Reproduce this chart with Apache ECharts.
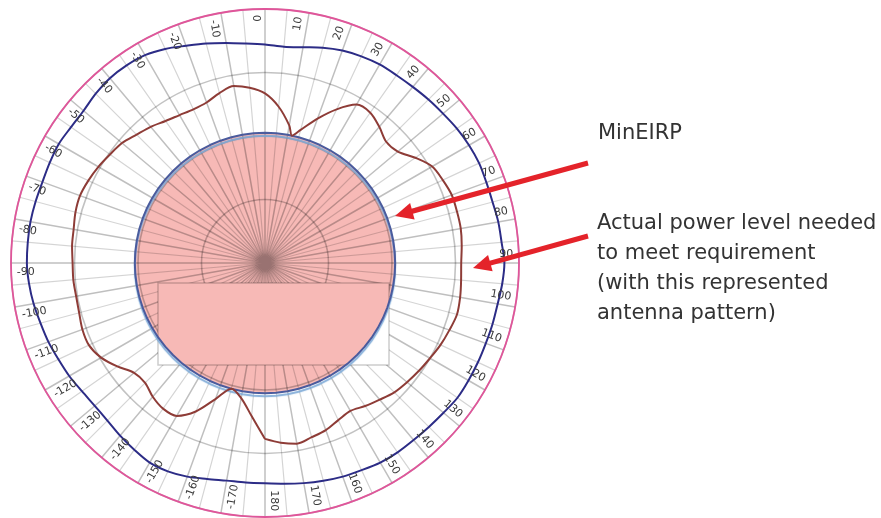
<!DOCTYPE html>
<html>
<head>
<meta charset="utf-8">
<script src="https://cdn.jsdelivr.net/npm/echarts@6/dist/echarts.min.js"></script>
<style>
  html, body { margin: 0; padding: 0; background: #ffffff; }
  #chart { width: 881px; height: 518px; }
</style>
</head>
<body>
<div id="chart"></div>
<script>
// Azimuth sample points in degrees (0 = top, clockwise positive)
const angles = [
  -180, -175, -170, -165, -160, -155, -150, -145, -140, -135, -130, -125,
  -120, -115, -110, -105, -100, -95, -90, -85, -80, -75, -70, -65,
  -60, -55, -50, -45, -40, -35, -30, -25, -20, -15, -10, -5,
  0, 5, 10, 15, 20, 25, 30, 35, 40, 45, 50, 55,
  60, 65, 70, 75, 80, 85, 90, 95, 100, 105, 110, 115,
  120, 125, 130, 135, 140, 145, 150, 155, 160, 165, 170, 175, 180
];

// Outer trace (dark blue), one value per entry of `angles`
const outerLevel = [
  34.7, 34.7, 34.8, 35.2, 35.8, 36.2, 36.3, 35.9, 35.5, 35.1, 35.0, 35.2,
  35.6, 35.9, 36.3, 36.6, 37.0, 37.3, 37.5, 37.5, 37.5, 37.4, 37.3, 37.4,
  37.5, 37.3, 37.3, 37.7, 38.0, 38.0, 37.8, 37.2, 36.4, 35.8, 35.2, 34.7,
  34.4, 34.2, 34.5, 35.1, 35.6, 35.9, 36.1, 36.1, 36.2, 36.4, 36.6, 36.9,
  37.1, 37.2, 37.1, 37.1, 37.3, 37.4, 37.7, 37.5, 37.2, 37.1, 37.0, 37.0,
  37.0, 37.0, 36.7, 36.5, 36.4, 36.4, 36.3, 36.0, 35.8, 35.5, 35.2, 34.9, 34.7
];

// Actual power level needed with the antenna pattern (brown trace)
const patternAngles = [
  -180, -175, -170, -165, -160, -155, -150, -145, -140, -135, -130, -125,
  -120, -115, -110, -105, -100, -95, -90, -85, -80, -75, -70, -65,
  -60, -55, -50, -45, -40, -35, -30, -25, -20, -15, -10, -5,
  0, 5, 10, 12, 15, 20, 25, 30, 35, 40, 45, 50, 55,
  60, 65, 70, 75, 80, 85, 90, 95, 100, 105, 110, 115,
  120, 125, 130, 135, 140, 145, 150, 155, 160, 165, 170, 175, 180
];
const patternLevel = [
  27.7, 24.2, 21.6, 20.5, 22.8, 25.8, 27.8, 28.0, 27.5, 26.7, 26.9, 28.4,
  29.8, 30.6, 30.6, 30.3, 30.2, 30.3, 30.3, 30.5, 30.6, 30.9, 31.0, 30.7,
  30.3, 29.8, 29.4, 28.6, 28.0, 27.3, 26.9, 26.7, 26.9, 27.7, 28.3, 27.7,
  26.7, 24.7, 22.0, 20.5, 21.7, 24.2, 26.7, 28.8, 28.9, 28.0, 27.0, 27.3, 28.9,
  30.4, 30.9, 31.3, 31.3, 31.3, 31.1, 30.9, 31.0, 31.2, 31.3, 30.9, 30.5,
  30.0, 29.6, 29.2, 28.8, 28.1, 27.5, 26.9, 27.3, 28.0, 28.4, 28.9, 28.4, 27.7
];

// MinEIRP level (filled disc)
const minEirp = 20.5;

// Azimuth tick labels
const tickLabels = [
  '-170', '-160', '-150', '-140', '-130', '-120', '-110', '-100', '-90',
  '-80', '-70', '-60', '-50', '-40', '-30', '-20', '-10', '0',
  '10', '20', '30', '40', '50', '60', '70', '80', '90',
  '100', '110', '120', '130', '140', '150', '160', '170', '180'
];
const tickLabelRadius = 39.1;

const CX = 265, CY = 263, R = 254;
// Blank panel sitting over the lower middle of the plot
const PANEL = { x: CX - 107, y: CY + 20, width: 231, height: 82 };
const DISC_FILL = '#f7b9b6';

const chart = echarts.init(document.getElementById('chart'), null, { renderer: 'canvas' });

// Sutherland–Hodgman clip of a polygon against an axis-aligned box
function clipToBox(pts, box) {
  const x0 = box.x, y0 = box.y, x1 = box.x + box.width, y1 = box.y + box.height;
  const planes = [
    [p => p[0] >= x0, (a, b) => { const t = (x0 - a[0]) / (b[0] - a[0]); return [x0, a[1] + t * (b[1] - a[1])]; }],
    [p => p[0] <= x1, (a, b) => { const t = (x1 - a[0]) / (b[0] - a[0]); return [x1, a[1] + t * (b[1] - a[1])]; }],
    [p => p[1] >= y0, (a, b) => { const t = (y0 - a[1]) / (b[1] - a[1]); return [a[0] + t * (b[0] - a[0]), y0]; }],
    [p => p[1] <= y1, (a, b) => { const t = (y1 - a[1]) / (b[1] - a[1]); return [a[0] + t * (b[0] - a[0]), y1]; }]
  ];
  let out = pts;
  for (const [inside, cut] of planes) {
    const src = out; out = [];
    for (let i = 0; i < src.length; i++) {
      const cur = src[i], prev = src[(i + src.length - 1) % src.length];
      const ci = inside(cur), pi = inside(prev);
      if (ci) { if (!pi) out.push(cut(prev, cur)); out.push(cur); }
      else if (pi) out.push(cut(prev, cur));
    }
    if (!out.length) break;
  }
  return out;
}

function arrow(x0, y0, x1, y1, color) {
  const dx = x1 - x0, dy = y1 - y0;
  const len = Math.sqrt(dx * dx + dy * dy);
  const ux = dx / len, uy = dy / len;
  const headLen = 18, headHalf = 8.5;
  const bx = x1 - ux * headLen, by = y1 - uy * headLen;
  return [
    { type: 'line', z: 10, silent: true,
      shape: { x1: x0, y1: y0, x2: bx + ux * 2, y2: by + uy * 2 },
      style: { stroke: color, lineWidth: 5 } },
    { type: 'polygon', z: 10, silent: true,
      shape: { points: [[x1, y1], [bx - uy * headHalf, by + ux * headHalf], [bx + uy * headHalf, by - ux * headHalf]] },
      style: { fill: color } }
  ];
}

const labelFont = "11px 'DejaVu Sans', Verdana, sans-serif";

function discPoints(api, r) {
  return angles.slice(0, -1).map(a => api.coord([r, a]));
}

chart.setOption({
  animation: false,
  backgroundColor: '#ffffff',
  polar: { center: [CX, CY], radius: R },
  angleAxis: {
    type: 'value', min: -180, max: 180, interval: 10,
    startAngle: 270, clockwise: true, z: 2,
    axisLine: { show: true, lineStyle: { color: '#e0559a', width: 1.8 } },
    axisTick: { show: false },
    axisLabel: { show: false },
    splitLine: { show: true, lineStyle: { color: 'rgba(0,0,0,0.25)', width: 1.5 } },
    minorTick: { show: false, splitNumber: 2 },
    minorSplitLine: { show: true, lineStyle: { color: 'rgba(0,0,0,0.17)', width: 1.2 } }
  },
  radiusAxis: {
    type: 'value', min: 0, max: 40, interval: 10, z: 2,
    axisLine: { show: false }, axisTick: { show: false }, axisLabel: { show: false },
    splitLine: { show: true, lineStyle: { color: 'rgba(0,0,0,0.24)', width: 1.6 } }
  },
  graphic: [
    { type: 'rect', z: 3, silent: true,
      shape: PANEL, style: { fill: '#ffffff' } },
    { type: 'rect', z: 5, silent: true,
      shape: PANEL, style: { fill: null, stroke: 'rgba(0,0,0,0.2)', lineWidth: 1.5 } },
    ...arrow(588, 163, 395, 216, '#e4232a'),
    ...arrow(588, 236, 473, 268, '#e4232a'),
    { type: 'text', z: 10, silent: true, x: 598, y: 133.5,
      style: { text: 'MinEIRP', font: "21px 'DejaVu Sans', Verdana, sans-serif",
               fill: '#333333', verticalAlign: 'middle', align: 'left' } },
    { type: 'text', z: 10, silent: true, x: 597, y: 268.7,
      style: { text: 'Actual power level needed\nto meet requirement\n(with this represented\nantenna pattern)',
               font: "21px 'DejaVu Sans', Verdana, sans-serif", lineHeight: 30,
               fill: '#333333', verticalAlign: 'middle', align: 'left' } }
  ],
  series: [
    {
      // MinEIRP disc, underneath the grid lines
      type: 'custom', coordinateSystem: 'polar', z: 1, silent: true,
      data: [[minEirp, 0]],
      renderItem(params, api) {
        return { type: 'polygon', shape: { points: discPoints(api, api.value(0)) },
                 style: { fill: DISC_FILL } };
      }
    },
    {
      // the part of the disc that lies over the blank panel
      type: 'custom', coordinateSystem: 'polar', z: 4, silent: true,
      data: [[minEirp, 0]],
      renderItem(params, api) {
        return { type: 'polygon', shape: { points: clipToBox(discPoints(api, api.value(0)), PANEL) },
                 style: { fill: DISC_FILL } };
      }
    },
    {
      name: 'MinEIRP', type: 'line', coordinateSystem: 'polar', z: 6,
      showSymbol: false, silent: true,
      data: angles.map(a => [minEirp, a]),
      lineStyle: { color: '#4a5b9d', width: 2,
                   shadowColor: 'rgba(125,170,215,0.95)', shadowOffsetY: 3, shadowBlur: 1 }
    },
    {
      name: 'Outer', type: 'line', coordinateSystem: 'polar', z: 6,
      showSymbol: false, silent: true, smooth: 0.3,
      data: angles.map((a, i) => [outerLevel[i], a]),
      lineStyle: { color: '#2c2c86', width: 2 }
    },
    {
      name: 'Pattern', type: 'line', coordinateSystem: 'polar', z: 6,
      showSymbol: false, silent: true, smooth: 0.3,
      data: patternAngles.map((a, i) => [patternLevel[i], a]),
      lineStyle: { color: '#8e3c37', width: 2 }
    },
    {
      // Azimuth labels, written along the radius
      type: 'custom', coordinateSystem: 'polar', z: 7, silent: true,
      data: tickLabels.map(t => [tickLabelRadius, Number(t)]),
      renderItem(params, api) {
        const ang = api.value(1);
        const p = api.coord([api.value(0), ang]);
        const c = api.coord([0, ang]);
        let ux = p[0] - c[0], uy = p[1] - c[1];
        const l = Math.sqrt(ux * ux + uy * uy);
        ux /= l; uy /= l;
        const rightSide = ang > 0;
        const phi = rightSide ? Math.atan2(uy, ux) : Math.atan2(-uy, -ux);
        const off = 9;
        return {
          type: 'text',
          x: p[0] + uy * off, y: p[1] - ux * off,
          rotation: -phi,
          style: {
            text: tickLabels[params.dataIndex], x: 0, y: 0,
            font: labelFont, fill: '#3a3a3a',
            align: rightSide ? 'right' : 'left', verticalAlign: 'middle'
          }
        };
      }
    }
  ]
});
</script>
</body>
</html>
